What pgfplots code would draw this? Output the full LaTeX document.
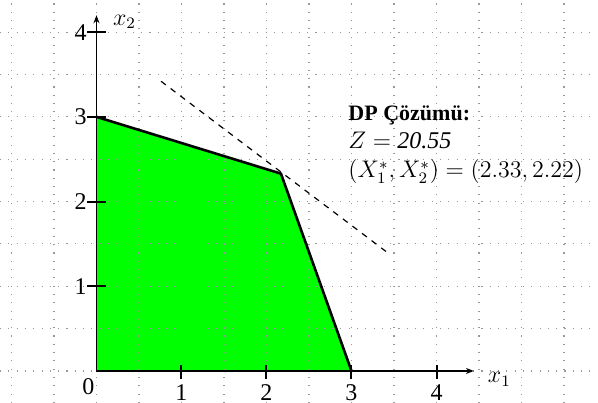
\documentclass[border=0pt]{standalone}
\usepackage{pgfplots}
\pgfplotsset{compat=1.18}
\usepackage{fontspec}
\setmainfont{Liberation Serif}
\usetikzlibrary{arrows.meta}

\begin{document}
\begin{tikzpicture}
\begin{axis}[
    width=299pt, height=201.5pt, scale only axis,
    xmin=-1.135, xmax=5.9, ymin=-0.378, ymax=4.38,
    axis line style={draw=none},
    xtick=\empty, ytick=\empty,
    clip=false,
]
% feasible region
\addplot[fill=green, draw=none] coordinates {(0,0) (0,3) (2.17,2.33) (3,0)} \closedcycle;

% dotted grid every 0.5
\pgfplotsinvokeforeach{-1,-0.5,...,5.5}{
  \draw[gray!80, line width=0.55pt, dash pattern=on 0.55pt off 3.6pt] (axis cs:#1,-0.378) -- (axis cs:#1,4.38);
}
\pgfplotsinvokeforeach{0,0.5,...,4}{
  \draw[gray!80, line width=0.55pt, dash pattern=on 0.55pt off 3.6pt] (axis cs:-1.135,#1) -- (axis cs:5.9,#1);
}

\addplot[black, line width=1.3pt] coordinates {(0,3) (2.17,2.33) (3,0)};
% objective line
\addplot[black, dashed, line width=0.6pt] coordinates {(0.76,3.42) (3.42,1.40)};

% axes
\draw[-{Stealth[length=4pt,width=3pt]}, line width=0.6pt] (axis cs:0,0) -- (axis cs:4.44,0);
\draw[-{Stealth[length=4pt,width=3pt]}, line width=0.6pt] (axis cs:0,0) -- (axis cs:0,4.2);
\pgfplotsinvokeforeach{1,2,3,4}{
  \draw[line width=1pt] (axis cs:#1,0.07) -- (axis cs:#1,-0.1);
  \node[anchor=north, font=\fontsize{12}{14}\selectfont, inner sep=0pt] at (axis cs:#1,-0.16) {#1};
  \draw[line width=1pt] (axis cs:-0.11,#1) -- (axis cs:0.11,#1);
  \node[anchor=east, font=\fontsize{12}{14}\selectfont, inner sep=0pt] at (axis cs:-0.11,#1) {#1};
}
\node[anchor=north east, font=\fontsize{12}{14}\selectfont, inner sep=0pt] at (axis cs:-0.02,-0.08) {0};
\node[font=\fontsize{12}{14}\selectfont] at (axis cs:4.74,-0.1) {$x_1$};
\node[font=\fontsize{12}{14}\selectfont] at (axis cs:0.33,4.12) {$x_2$};

\coordinate (t1) at (axis cs:2.96,2.96);
\coordinate (t2) at (axis cs:2.96,2.63);
\coordinate (t3) at (axis cs:2.96,2.28);
\end{axis}
% annotation
\node[anchor=base west, inner sep=0pt, font=\fontsize{11}{13}\selectfont\bfseries] at (t1) {DP Çözümü:};
\node[anchor=base west, inner sep=0pt, font=\fontsize{12}{14}\selectfont] at (t2) {$Z =$ \textit{20.55}};
\node[anchor=base west, inner sep=0pt, font=\fontsize{11.6}{14}\selectfont] at (t3) {$(X_1^*,X_2^*) = (2.33,2.22)$};
\pgfresetboundingbox
\useasboundingbox (current axis.south west) rectangle (current axis.north east);
\end{tikzpicture}
\end{document}
